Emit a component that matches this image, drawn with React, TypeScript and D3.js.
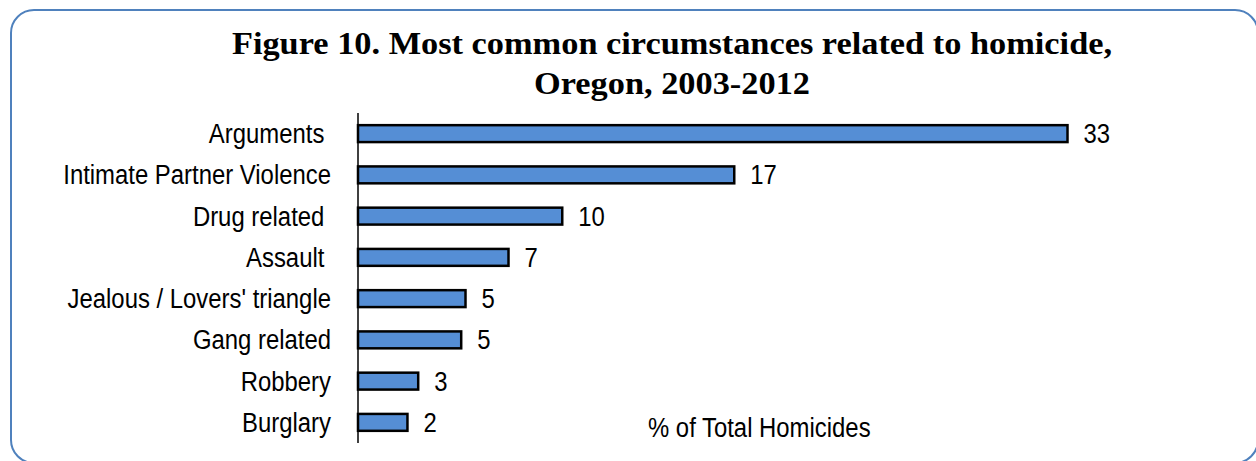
import React from "react";
import * as d3 from "d3";

const categories: string[] = [
  "Arguments ",
  "Intimate Partner Violence",
  "Drug related ",
  "Assault ",
  "Jealous / Lovers' triangle",
  "Gang related",
  "Robbery",
  "Burglary",
];
const values: number[] = [33.0, 17.5, 9.5, 7.0, 5.0, 4.8, 2.8, 2.3];
const valueLabels: string[] = ["33", "17", "10", "7", "5", "5", "3", "2"];
const titleLines: string[] = [
  "Figure 10. Most common circumstances related to homicide,",
  "Oregon, 2003-2012",
];
const axisTitle = "% of Total Homicides";

const W = 1256;
const H = 461;
const SANS = "'Liberation Sans', Arial, sans-serif";
const SERIF = "'Liberation Serif', 'Times New Roman', serif";
const SX = 0.885;
const FS = 27;
const TSX = 1.108;

export default function App() {
  const x = d3.scaleLinear().domain([0, 35]).range([358, 358 + 21.5 * 35]);
  const y = d3
    .scaleBand<string>()
    .domain(categories)
    .range([113, 443])
    .paddingInner(0.59)
    .paddingOuter(0.295);
  const bw = y.bandwidth();

  const Txt = (props: { x: number; y: number; anchor?: string; children: React.ReactNode; fs?: number }) => (
    <g transform={`translate(${props.x},${props.y}) scale(${SX},1)`}>
      <text
        x={0}
        y={0}
        textAnchor={props.anchor || "start"}
        dominantBaseline="central"
        fontFamily={SANS}
        fontSize={props.fs || FS}
        fill="#000"
        style={{ whiteSpace: "pre" }}
      >
        {props.children}
      </text>
    </g>
  );

  return (
    <svg
      width={W}
      height={H}
      style={{ position: "absolute", left: 0, top: 0, background: "#fff" }}
    >
      <rect
        x={11}
        y={10}
        width={1247}
        height={453}
        rx={23}
        ry={23}
        fill="#fff"
        stroke="#4F81BD"
        strokeWidth={2}
      />
      {titleLines.map((t, i) => (
        <g key={i} transform={`translate(672,${54 + i * 40}) scale(${TSX},1)`}>
          <text
            x={0}
            y={0}
            textAnchor="middle"
            fontFamily={SERIF}
            fontWeight="bold"
            fontSize={31}
            fill="#000"
          >
            {t}
          </text>
        </g>
      ))}
      {categories.map((c, i) => (
        <g key={c}>
          <rect
            x={x(0)}
            y={y(c)!}
            width={x(values[i]) - x(0)}
            height={bw}
            fill="#558ED5"
            stroke="#000"
            strokeWidth={2.5}
          />
          <Txt x={331} y={y(c)! + bw / 2} anchor="end">
            {c}
          </Txt>
          <Txt x={x(values[i]) + 16} y={y(c)! + bw / 2}>
            {valueLabels[i]}
          </Txt>
        </g>
      ))}
      <line x1={x(0)} x2={x(0)} y1={113} y2={443} stroke="#000" strokeWidth={1.5} />
      <Txt x={648} y={427}>
        {axisTitle}
      </Txt>
    </svg>
  );
}
